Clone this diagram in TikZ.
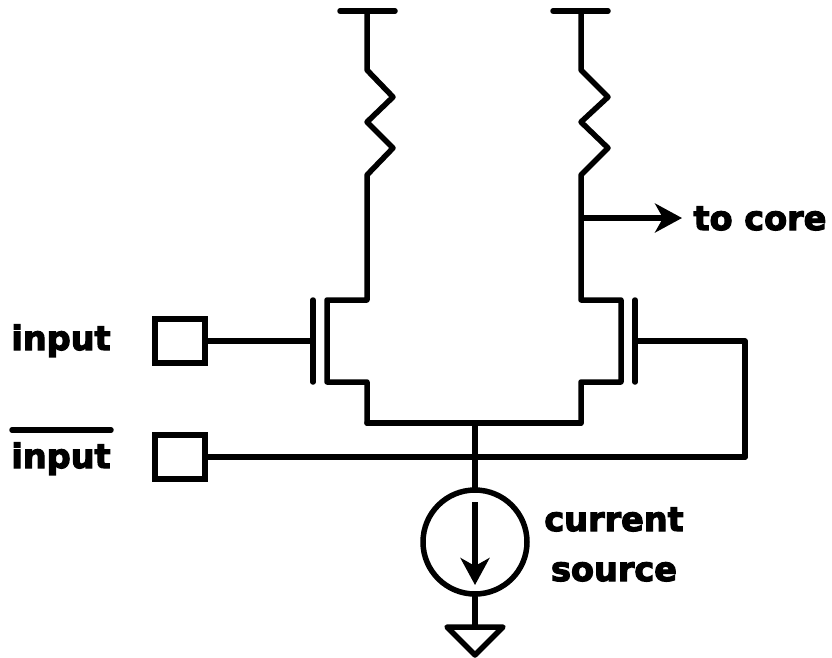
\documentclass[tikz,border=0pt]{standalone}
\usepackage{fontspec}
\setmainfont[BoldFeatures={FakeBold=3.5}]{DejaVu Sans}
\usetikzlibrary{arrows.meta}
\tikzstyle{wire} = [draw, line width=5.5pt, line cap=round, line join=round]
\tikzstyle{line} = [wire, -{Stealth[length=27pt,width=29pt,inset=8pt]}, line cap=butt]
\tikzstyle{pad} = [rectangle, draw, line width=5.5pt, minimum width=50pt, minimum height=44pt, inner sep=0pt]
\tikzstyle{label} = [inner sep=0pt, font=\fontsize{33.5}{33.5}\selectfont\bfseries, anchor=base]

\begin{document}
\begin{tikzpicture}[x=1pt, y=-1pt]
		\useasboundingbox (0,0) rectangle (832,657);

		% pads and labels
		\node [pad] (inp) at (180,341) {};
		\node [pad] (inn) at (180,457) {};
		\node [label] (lblinp) at (61,350) {input};
		\node [label] (lblinn) at (61,468) {input};
		\node [label] (lblcore) at (760,230) {to core};
		\node [label] (lblcur) at (614,531) {current};
		\node [label] (lblsrc) at (614,581) {source};

		% left branch
		\coordinate (vl) at (367,11);
		\coordinate (vla) at (340,11);
		\coordinate (vlb) at (395,11);
		\coordinate (gl) at (313,341);
		\coordinate (gla) at (313,300);
		\coordinate (glb) at (313,382);
		\path [wire] (vla) -- (vlb);
		\path [wire] (vl) -- (367,70) -- (393,97) -- (367,122) -- (393,148) -- (367,175) -- (367,300) -- (327,300) -- (327,382) -- (367,382) -- (367,423);
		\path [wire] (gla) -- (glb);
		\path [wire] (inp) -- (gl);

		% right branch
		\coordinate (vr) at (581,11);
		\coordinate (vra) at (553,11);
		\coordinate (vrb) at (608,11);
		\coordinate (gr) at (635,341);
		\coordinate (gra) at (635,300);
		\coordinate (grb) at (635,382);
		\coordinate (tap) at (581,218);
		\coordinate (core) at (682,218);
		\coordinate (turn) at (745,341);
		\coordinate (join) at (745,457);
		\path [wire] (vra) -- (vrb);
		\path [wire] (vr) -- (581,70) -- (608,97) -- (581,122) -- (608,148) -- (581,175) -- (581,300) -- (621,300) -- (621,382) -- (581,382) -- (581,423);
		\path [wire] (gra) -- (grb);
		\path [wire] (gr) -- (turn) -- (join);
		\path [line] (tap) -- (core);

		% tail and current source
		\coordinate (busl) at (367,423);
		\coordinate (busr) at (581,423);
		\coordinate (tail) at (475,423);
		\coordinate (arra) at (475,502);
		\coordinate (arrb) at (475,585);
		\node [circle, draw, line width=5.5pt, minimum size=104pt, inner sep=0pt] (src) at (475,542) {};
		\coordinate (gnd) at (475,627);
		\coordinate (gnda) at (447,627);
		\coordinate (gndb) at (503,627);
		\coordinate (gndc) at (475,655);
		\path [wire] (busl) -- (busr);
		\path [wire] (tail) -- (src);
		\path [wire] (inn) -- (join);
		\path [line] (arra) -- (arrb);
		\path [wire] (src) -- (gnd);
		\path [wire] (gnda) -- (gndb) -- (gndc) -- cycle;

		% bar over the second label
		\coordinate (bara) at (12,430);
		\coordinate (barb) at (111,430);
		\path [wire] (bara) -- (barb);
	\end{tikzpicture}
\end{document}
